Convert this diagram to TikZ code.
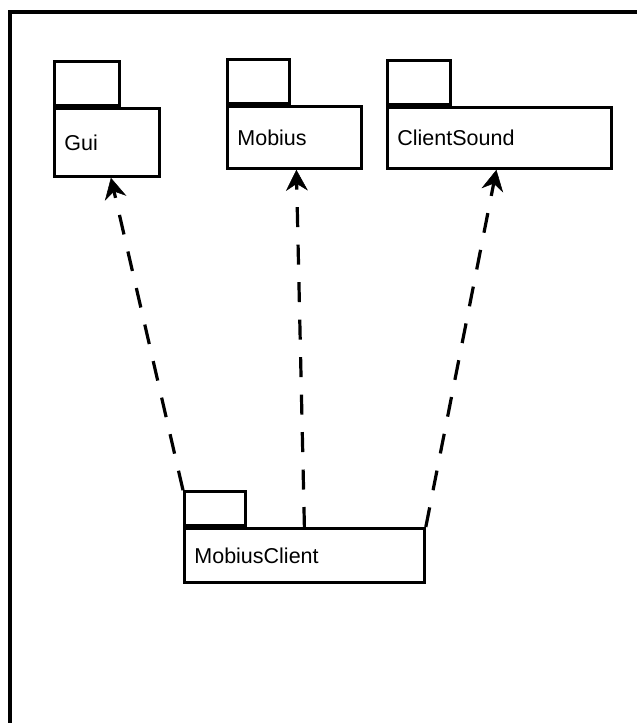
\documentclass[tikz,border=0pt]{standalone}
\usepackage{fontspec}
\setmainfont{Liberation Sans}
\usetikzlibrary{arrows.meta}
\begin{document}
\begin{tikzpicture}[x=1pt,y=-1pt,
  pkgbody/.style={draw, line width=2.8pt, rectangle, anchor=north west, inner xsep=10pt, inner ysep=0pt,
    font=\fontsize{21.5}{25}\selectfont, align=left},
  pkgtab/.style={draw, line width=2.8pt, rectangle, anchor=south west, inner sep=0pt, minimum height=44pt},
  dep/.style={line width=3.2pt, dash pattern=on 20pt off 17.5pt,
    -{Stealth[length=21pt, width=22pt, inset=7pt, line width=0.5pt]}},
  frame/.style={line width=3.5pt}]
\useasboundingbox (0,0) rectangle (637,723);
% frame
\coordinate (fl) at (10,723);
\coordinate (fc) at (10,12);
\coordinate (fr) at (637,12);
\draw[frame] (fl) -- (fc) -- (fr);
% packages
\node[pkgbody, text width=85pt, minimum height=68pt] (gui) at (53,107) {Gui};
\node[pkgtab, minimum width=65pt] (guitab) at (gui.north west) {};
\node[pkgbody, text width=114pt, minimum height=62pt] (mob) at (226,105) {Mobius};
\node[pkgtab, minimum width=62pt] (mobtab) at (mob.north west) {};
\node[pkgbody, text width=204pt, minimum height=61pt] (cs) at (386,106) {ClientSound};
\node[pkgtab, minimum width=63pt] (cstab) at (cs.north west) {};
\node[pkgbody, text width=220pt, minimum height=54pt] (mc) at (183,527) {MobiusClient};
\node[pkgtab, minimum width=61pt, minimum height=34pt] (mctab) at (mc.north west) {};
% dependencies
\draw[dep] (mctab.north west) -- ([xshift=4pt]gui.south);
\draw[dep] (mc.north) -- ([xshift=2pt]mob.south);
\draw[dep] (mc.north east) -- ([xshift=-3pt]cs.south);
\end{tikzpicture}
\end{document}
